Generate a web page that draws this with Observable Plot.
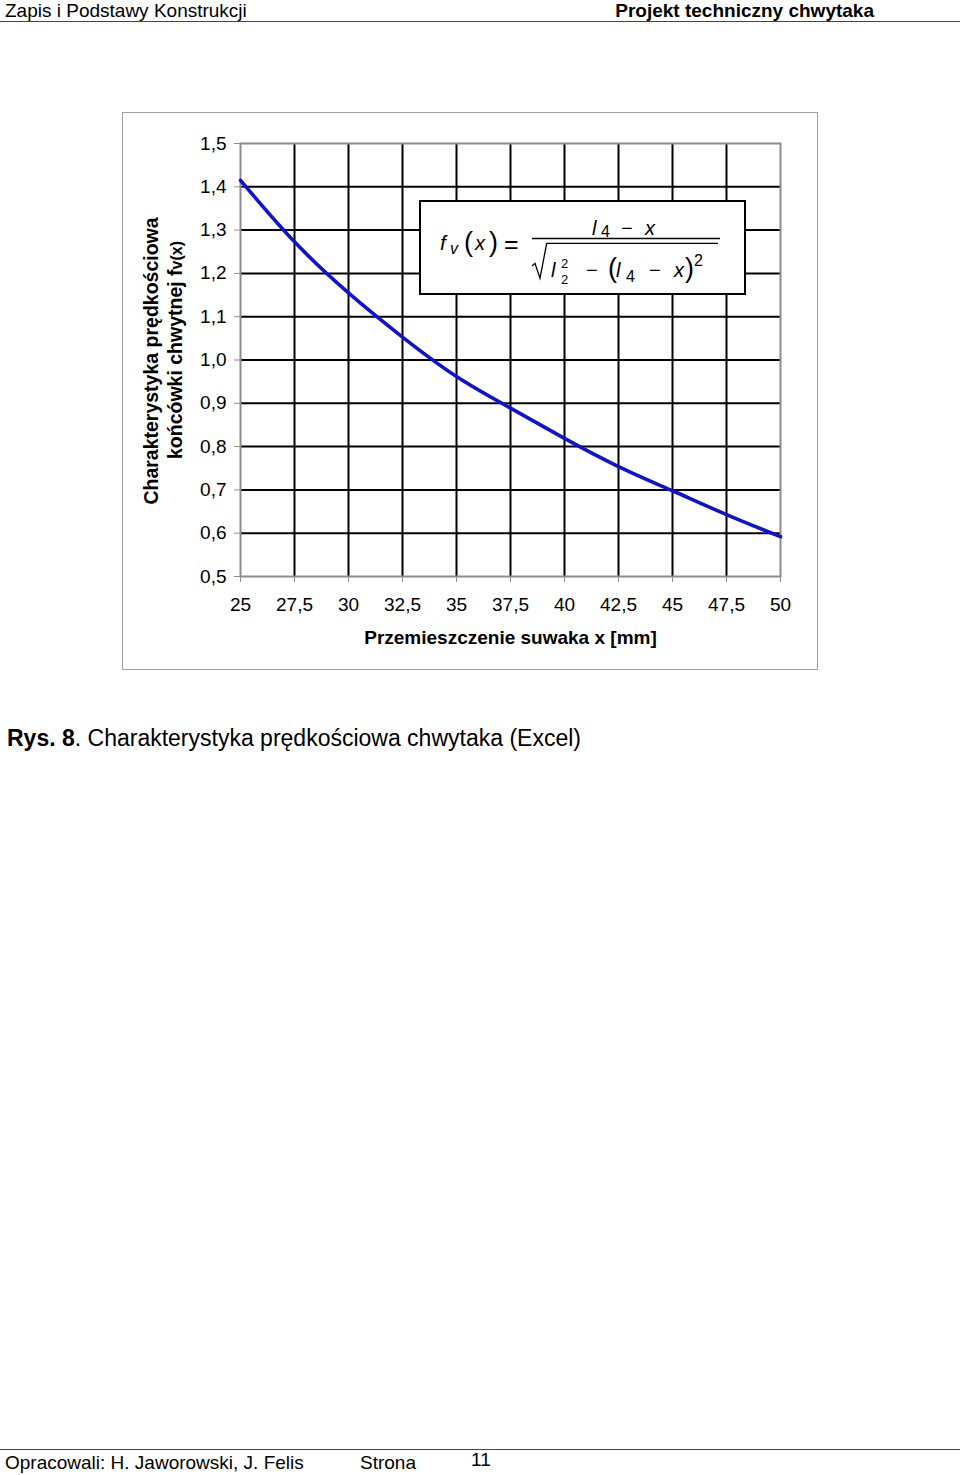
<!DOCTYPE html>
<html>
<head>
<meta charset="utf-8">
<script src="https://cdn.jsdelivr.net/npm/d3@7"></script>
<script src="https://cdn.jsdelivr.net/npm/@observablehq/plot@0.6"></script>
<style>
  html, body { margin: 0; padding: 0; background: #fff; }
  body { width: 960px; height: 1475px; position: relative; overflow: hidden; font-family: "Liberation Sans", Arial, sans-serif; color: #000; }
  .abs { position: absolute; white-space: nowrap; }
  #chartbox { position: absolute; left: 122px; top: 112px; width: 694px; height: 556px; border: 1px solid #a0a0a0; }
  #chart { position: absolute; left: 0; top: 0; }
  #formula { position: absolute; left: 419px; top: 200px; }
</style>
</head>
<body>
<div class="abs" style="left:5px; top:0px; font-size:19px;">Zapis i Podstawy Konstrukcji</div>
<div class="abs" style="right:86px; top:0px; font-size:19px; font-weight:bold;">Projekt techniczny chwytaka</div>
<div class="abs" style="left:0; top:21px; width:960px; height:0; border-top:1.5px solid #444;"></div>

<div id="chartbox"><div id="chart"></div></div>

<svg id="formula" width="328" height="96" font-family="Liberation Sans, Arial, sans-serif" font-size="20">
  <rect x="1" y="1" width="325" height="93" fill="#fff" stroke="#000" stroke-width="2"/>
  <text x="21" y="50" font-style="italic" font-size="21">f</text>
  <text x="31" y="54" font-style="italic" font-size="16">v</text>
  <text x="45" y="51" font-size="27">(</text>
  <text x="56" y="50" font-style="italic">x</text>
  <text x="70" y="51" font-size="27">)</text>
  <text x="85" y="53" font-size="25">=</text>
  <line x1="113" y1="38.5" x2="301" y2="38.5" stroke="#000" stroke-width="1.3"/>
  <text x="173" y="35" font-style="italic">l</text>
  <text x="182" y="37" font-size="16">4</text>
  <text x="202" y="35">−</text>
  <text x="226" y="35" font-style="italic">x</text>
  <polyline points="113,66 116,63.3 121,78.3 127.7,43.3 299,43.3" fill="none" stroke="#000" stroke-width="1.3"/>
  <text x="132" y="77" font-style="italic">l</text>
  <text x="142" y="68" font-size="13">2</text>
  <text x="142" y="84" font-size="13">2</text>
  <text x="167" y="77">−</text>
  <text x="189" y="77" font-size="27">(</text>
  <text x="197" y="77" font-style="italic">l</text>
  <text x="207" y="82" font-size="16">4</text>
  <text x="230" y="77">−</text>
  <text x="255" y="77" font-style="italic">x</text>
  <text x="266" y="77" font-size="27">)</text>
  <text x="275" y="66" font-size="16">2</text>
</svg>

<div class="abs" style="left:7px; top:725px; font-size:23px;"><b>Rys. 8</b>. Charakterystyka prędkościowa chwytaka (Excel)</div>

<div class="abs" style="left:0; top:1449px; width:960px; height:0; border-top:1.5px solid #444;"></div>
<div class="abs" style="left:5px; top:1452px; font-size:19px;">Opracowali: H. Jaworowski, J. Felis</div>
<div class="abs" style="left:360px; top:1452px; font-size:19px;">Strona</div>
<div class="abs" style="left:471px; top:1449px; font-size:19px;">11</div>

<script>
// Data
const positions = [25, 27.5, 30, 32.5, 35, 37.5, 40, 42.5, 45, 47.5, 50];
const fvValues  = [1.415, 1.273, 1.155, 1.053, 0.962, 0.889, 0.819, 0.754, 0.698, 0.643, 0.592];
const xTicks = [25, 27.5, 30, 32.5, 35, 37.5, 40, 42.5, 45, 47.5, 50];
const yTicks = [0.5, 0.6, 0.7, 0.8, 0.9, 1.0, 1.1, 1.2, 1.3, 1.4, 1.5];
const xLabel = "Przemieszczenie suwaka x [mm]";
const yLabel1 = "Charakterystyka prędkościowa";
const yLabel2 = "końcówki chwytnej f";

const data = positions.map((x, i) => ({x, y: fvValues[i]}));
const comma = d => String(d).replace(".", ",");
const yFmt = d => d.toFixed(1).replace(".", ",");

const plot = Plot.plot({
  width: 694,
  height: 556,
  marginLeft: 117,
  marginTop: 30,
  marginRight: 37,
  marginBottom: 93,
  style: {fontFamily: "Liberation Sans, Arial, sans-serif", fontSize: "19px", background: "transparent", color: "#000", overflow: "visible"},
  x: {domain: [25, 50], label: null},
  y: {domain: [0.5, 1.5], label: null},
  marks: [
    Plot.gridX(xTicks.slice(1, -1), {stroke: "#000", strokeOpacity: 1, strokeWidth: 2}),
    Plot.gridY(yTicks.slice(1, -1), {stroke: "#000", strokeOpacity: 1, strokeWidth: 2}),
    Plot.frame({stroke: "#8c8c8c", strokeWidth: 2}),
    Plot.axisX(xTicks, {tickFormat: comma, tickSize: 6, tickPadding: 15, stroke: "#8c8c8c", fill: "#000", label: null}),
    Plot.axisY(yTicks, {tickFormat: yFmt, tickSize: 6, tickPadding: 8, stroke: "#8c8c8c", fill: "#000", label: null}),
    Plot.line(data, {x: "x", y: "y", stroke: "#1212cc", strokeWidth: 3.6, curve: "natural"}),
    Plot.text([xLabel], {frameAnchor: "bottom", dy: 61, text: d => d, fontWeight: "bold", fontSize: 19, lineAnchor: "middle", fill: "#000"})
  ]
});
document.getElementById("chart").appendChild(plot);

// Two-line rotated y-axis title
const svg = d3.select(plot);
svg.append("text")
  .attr("transform", "translate(35,248) rotate(-90)")
  .attr("text-anchor", "middle")
  .attr("font-weight", "bold").attr("font-size", 19.5)
  .attr("font-family", "Liberation Sans, Arial, sans-serif")
  .text(yLabel1);
const t2 = svg.append("text")
  .attr("transform", "translate(59,237) rotate(-90)")
  .attr("text-anchor", "middle")
  .attr("font-weight", "bold").attr("font-size", 19.5)
  .attr("font-family", "Liberation Sans, Arial, sans-serif");
t2.append("tspan").text(yLabel2);
t2.append("tspan").attr("font-size", 16).text("v(x)");
</script>
</body>
</html>
